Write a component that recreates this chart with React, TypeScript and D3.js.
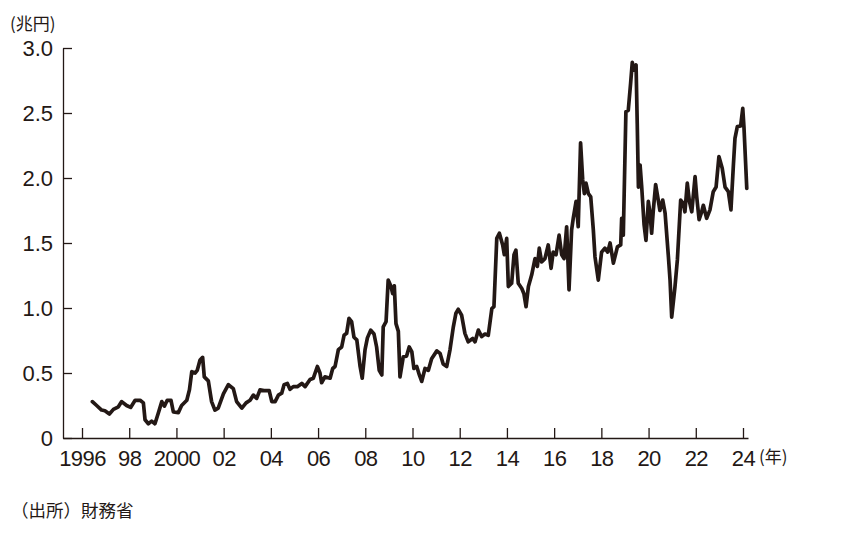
import React, { useRef, useEffect } from 'react';
import * as d3 from 'd3';

// monthly-ish readings (decimal year) of the series, 兆円
const years = [
  1996.44, 1996.62, 1996.83, 1996.97, 1997.16, 1997.33, 1997.54, 1997.68, 1997.89, 1998.06,
  1998.25, 1998.46, 1998.60, 1998.67, 1998.81, 1998.95, 1999.09, 1999.23, 1999.38, 1999.49,
  1999.61, 1999.77, 1999.87, 2000.08, 2000.22, 2000.44, 2000.55, 2000.65, 2000.79, 2000.88,
  2001.00, 2001.11, 2001.18, 2001.35, 2001.49, 2001.63, 2001.77, 2001.99, 2002.20, 2002.41,
  2002.55, 2002.77, 2002.95, 2003.12, 2003.26, 2003.40, 2003.54, 2003.71, 2003.93, 2004.04,
  2004.18, 2004.32, 2004.46, 2004.56, 2004.70, 2004.81, 2004.95, 2005.12, 2005.31, 2005.45,
  2005.66, 2005.80, 2005.97, 2006.08, 2006.15, 2006.29, 2006.51, 2006.62, 2006.72, 2006.86,
  2007.00, 2007.10, 2007.21, 2007.31, 2007.42, 2007.52, 2007.64, 2007.78, 2007.87, 2007.99,
  2008.09, 2008.23, 2008.37, 2008.48, 2008.59, 2008.70, 2008.76, 2008.88, 2008.97, 2009.09,
  2009.16, 2009.23, 2009.30, 2009.40, 2009.47, 2009.61, 2009.75, 2009.86, 2009.97, 2010.06,
  2010.18, 2010.29, 2010.39, 2010.53, 2010.67, 2010.81, 2011.03, 2011.17, 2011.30, 2011.45,
  2011.59, 2011.73, 2011.84, 2011.94, 2012.08, 2012.22, 2012.36, 2012.55, 2012.65, 2012.79,
  2012.93, 2013.07, 2013.21, 2013.36, 2013.45, 2013.57, 2013.68, 2013.82, 2013.89, 2013.99,
  2014.06, 2014.20, 2014.30, 2014.38, 2014.48, 2014.63, 2014.72, 2014.81, 2014.91, 2015.05,
  2015.19, 2015.29, 2015.37, 2015.47, 2015.61, 2015.75, 2015.87, 2015.96, 2016.08, 2016.21,
  2016.32, 2016.42, 2016.53, 2016.63, 2016.74, 2016.81, 2016.93, 2017.02, 2017.12, 2017.21,
  2017.28, 2017.35, 2017.45, 2017.55, 2017.66, 2017.73, 2017.87, 2018.01, 2018.15, 2018.27,
  2018.37, 2018.51, 2018.68, 2018.82, 2018.86, 2018.93, 2019.04, 2019.14, 2019.24, 2019.31,
  2019.38, 2019.47, 2019.52, 2019.57, 2019.64, 2019.71, 2019.81, 2019.89, 2019.99, 2020.06,
  2020.13, 2020.20, 2020.30, 2020.41, 2020.48, 2020.60, 2020.70, 2020.84, 2020.91, 2020.98,
  2021.12, 2021.22, 2021.36, 2021.47, 2021.54, 2021.64, 2021.73, 2021.83, 2021.97, 2022.04,
  2022.14, 2022.25, 2022.32, 2022.46, 2022.60, 2022.74, 2022.86, 2022.98, 2023.12, 2023.24,
  2023.38, 2023.49, 2023.59, 2023.66, 2023.76, 2023.90, 2023.99, 2024.04, 2024.16,
];

const values = [
  0.28, 0.25, 0.215, 0.21, 0.185, 0.22, 0.24, 0.28, 0.25, 0.235,
  0.29, 0.29, 0.27, 0.14, 0.11, 0.13, 0.11, 0.19, 0.28, 0.245,
  0.29, 0.29, 0.20, 0.195, 0.25, 0.29, 0.37, 0.51, 0.50, 0.52,
  0.60, 0.62, 0.47, 0.44, 0.28, 0.215, 0.23, 0.34, 0.41, 0.38,
  0.28, 0.23, 0.27, 0.29, 0.33, 0.305, 0.37, 0.365, 0.365, 0.28,
  0.28, 0.33, 0.345, 0.41, 0.42, 0.375, 0.395, 0.395, 0.42, 0.395,
  0.45, 0.46, 0.55, 0.50, 0.425, 0.47, 0.46, 0.535, 0.55, 0.68,
  0.70, 0.79, 0.805, 0.92, 0.895, 0.775, 0.755, 0.55, 0.46, 0.68,
  0.77, 0.83, 0.80, 0.70, 0.52, 0.485, 0.855, 0.895, 1.215, 1.165,
  1.11, 1.17, 0.88, 0.82, 0.47, 0.625, 0.63, 0.70, 0.665, 0.535,
  0.55, 0.485, 0.435, 0.535, 0.52, 0.61, 0.67, 0.65, 0.57, 0.55,
  0.68, 0.855, 0.96, 0.99, 0.945, 0.805, 0.74, 0.765, 0.74, 0.83,
  0.78, 0.80, 0.79, 0.995, 1.01, 1.535, 1.575, 1.485, 1.41, 1.535,
  1.165, 1.19, 1.41, 1.445, 1.19, 1.15, 1.11, 1.01, 1.165, 1.255,
  1.38, 1.32, 1.46, 1.355, 1.38, 1.485, 1.305, 1.43, 1.41, 1.56,
  1.41, 1.38, 1.625, 1.14, 1.60, 1.69, 1.82, 1.625, 2.27, 1.985,
  1.88, 1.96, 1.88, 1.855, 1.60, 1.395, 1.215, 1.43, 1.46, 1.43,
  1.50, 1.345, 1.47, 1.485, 1.69, 1.56, 2.51, 2.52, 2.73, 2.89,
  2.83, 2.87, 2.42, 1.93, 2.10, 1.93, 1.64, 1.52, 1.82, 1.73,
  1.575, 1.75, 1.95, 1.83, 1.75, 1.83, 1.73, 1.395, 1.215, 0.93,
  1.165, 1.37, 1.83, 1.805, 1.74, 1.96, 1.82, 1.74, 2.01, 1.855,
  1.68, 1.74, 1.79, 1.69, 1.755, 1.895, 1.93, 2.165, 2.075, 1.93,
  1.895, 1.755, 2.09, 2.305, 2.395, 2.40, 2.535, 2.395, 1.92,
];

const yTicks = [0, 0.5, 1.0, 1.5, 2.0, 2.5, 3.0];
const xTicks = [1996, 1998, 2000, 2002, 2004, 2006, 2008, 2010, 2012, 2014, 2016, 2018, 2020, 2022, 2024];
const xTickLabels = ['1996', '98', '2000', '02', '04', '06', '08', '10', '12', '14', '16', '18', '20', '22', '24'];

const INK = '#231815';
const LATIN = '"Liberation Sans", Arial, sans-serif';
const CJK = '"Noto Sans CJK JP", sans-serif';

const Chart: React.FC<{ width: number; height: number }> = ({ width, height }) => {
  const svgRef = useRef<SVGSVGElement>(null);

  useEffect(() => {
    if (!svgRef.current) return;
    const svg = d3.select(svgRef.current);
    svg.selectAll('*').remove();

    // axis frame runs a bit past 1996 on the left and 2024 on the right
    const xScale = d3.scaleLinear().domain([1995.195, 2024.212]).range([63, 748]);
    const yScale = d3.scaleLinear().domain([0, 3]).range([438, 48]);

    const yAxis = d3.axisLeft(yScale)
      .tickValues(yTicks)
      .tickSizeInner(-9)
      .tickSizeOuter(0)
      .tickPadding(10)
      .tickFormat(d => (d === 0 ? '0' : d3.format('.1f')(d as number)));

    const gy = svg.append('g').attr('transform', `translate(${xScale.range()[0]},0)`).call(yAxis);
    gy.select('.domain').attr('stroke', INK).attr('stroke-width', 1.3);
    gy.selectAll('.tick line').attr('stroke', INK).attr('stroke-width', 1.3);
    gy.selectAll('.tick text')
      .attr('fill', INK)
      .style('font-family', LATIN)
      .style('font-size', '22px');

    const xAxis = d3.axisBottom(xScale)
      .tickValues(xTicks)
      .tickSizeInner(-10)
      .tickSizeOuter(0)
      .tickPadding(12)
      .tickFormat((d, i) => xTickLabels[i]);

    const gx = svg.append('g').attr('transform', `translate(0,${yScale(0)})`).call(xAxis);
    gx.select('.domain').attr('stroke', INK).attr('stroke-width', 1.3);
    gx.selectAll('.tick line').attr('stroke', INK).attr('stroke-width', 1.3);
    gx.selectAll('.tick text')
      .attr('fill', INK)
      .style('font-family', LATIN)
      .style('font-size', '22px')
      .style('letter-spacing', '-0.6px');

    const line = d3.line<number>()
      .x((d, i) => xScale(years[i]))
      .y(d => yScale(d));

    svg.append('path')
      .datum(values)
      .attr('fill', 'none')
      .attr('stroke', INK)
      .attr('stroke-width', 3.7)
      .attr('stroke-linejoin', 'round')
      .attr('stroke-linecap', 'round')
      .attr('d', line);

    // unit labels and source
    svg.append('text')
      .attr('x', 10)
      .attr('y', 30)
      .attr('fill', INK)
      .style('font-family', CJK)
      .style('font-size', '17px')
      .text('(兆円)');

    svg.append('text')
      .attr('x', 759)
      .attr('y', 463)
      .attr('fill', INK)
      .style('font-family', CJK)
      .style('font-size', '17px')
      .text('(年)');

    svg.append('text')
      .attr('x', 11)
      .attr('y', 517)
      .attr('fill', INK)
      .style('font-family', CJK)
      .style('font-size', '17.5px')
      .text('（出所）財務省');
  }, [width, height]);

  return (
    <svg
      ref={svgRef}
      width={width}
      height={height}
      style={{ position: 'absolute', left: 0, top: 0, background: '#fff' }}
    />
  );
};

export default function App() {
  return <Chart width={859} height={544} />;
}
